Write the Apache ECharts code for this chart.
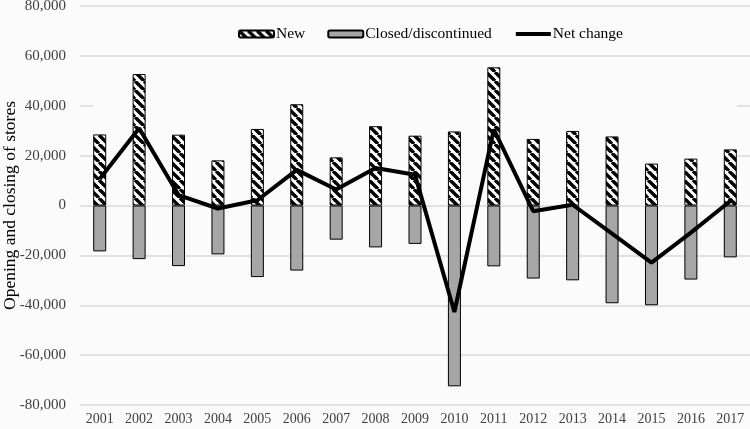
<!DOCTYPE html>
<html>
<head>
<meta charset="utf-8">
<script src="https://cdn.jsdelivr.net/npm/echarts@6/dist/echarts.min.js"></script>
<style>
  html, body { margin: 0; padding: 0; background: #fbfbfb; }
  #chart { width: 750px; height: 429px; }
</style>
</head>
<body>
<div id="chart"></div>
<script>
var years = ['2001', '2002', '2003', '2004', '2005', '2006', '2007', '2008', '2009',
  '2010', '2011', '2012', '2013', '2014', '2015', '2016', '2017']
var newStores = [28500, 52700, 28400, 18100, 30700, 40600, 19300, 31800, 28000,
  29700, 55400, 26700, 29900, 27700, 16800, 18800, 22500]
var closedStores = [-18400, -21500, -24300, -19600, -28700, -26100, -13700, -16800, -15400,
  -72500, -24400, -29300, -30000, -39200, -40000, -29700, -20800]
var netChange = [10600, 31000, 4200, -1200, 2100, 14300, 6400, 15000, 12300,
  -42700, 30500, -2300, 300, -11300, -22900, -10900, 1800]

// hatch pattern for the "New" bars
function hatch () {
  var c = document.createElement('canvas')
  c.width = 9
  c.height = 9
  var ctx = c.getContext('2d')
  ctx.fillStyle = '#fff'
  ctx.fillRect(0, 0, 9, 9)
  ctx.strokeStyle = '#000'
  ctx.lineWidth = 3.4
  ;[-9, 0, 9].forEach(function (k) {
    ctx.beginPath()
    ctx.moveTo(k, 0)
    ctx.lineTo(k + 9, 9)
    ctx.stroke()
  })
  return c
}

function fmt (v) {
  return String(v).replace(/\B(?=(\d{3})+(?!\d))/g, ',')
}

var font = 'Liberation Serif'
var textColor = '#404040'

var myChart = echarts.init(document.getElementById('chart'))
myChart.setOption({
  backgroundColor: '#fbfbfb',
  animation: false,
  textStyle: { fontFamily: font },
  grid: { left: 80, right: 0, top: 6, bottom: 24, outerBoundsMode: 'none', containLabel: false },
  legend: {
    left: 233,
    top: 21,
    itemWidth: 35,
    itemHeight: 7,
    itemGap: 22,
    textStyle: { fontFamily: font, fontSize: 15.5, color: '#000', padding: [0, 0, 0, -3] },
    data: [
      'New',
      'Closed/discontinued',
      { name: 'Net change', itemStyle: { opacity: 0 }, lineStyle: { width: 4 } }
    ]
  },
  xAxis: {
    type: 'category',
    data: years,
    axisTick: { show: false },
    axisLine: { show: false, onZero: false },
    axisLabel: { fontFamily: font, fontSize: 14, color: textColor, margin: 7 }
  },
  yAxis: {
    type: 'value',
    min: -80000,
    max: 80000,
    interval: 20000,
    name: 'Opening and closing of stores',
    nameLocation: 'middle',
    nameGap: 61,
    nameMoveOverlap: false,
    nameTextStyle: { fontFamily: font, fontSize: 17.5, color: '#000' },
    axisLine: { show: false },
    axisTick: { show: false },
    axisLabel: { fontFamily: font, fontSize: 15, color: textColor, margin: 14, formatter: fmt },
    splitLine: { lineStyle: { color: '#d9d9d9', width: 1.5 } }
  },
  graphic: [{
    type: 'rect',
    z: 1,
    silent: true,
    shape: { x: 93, y: 62, width: 644, height: 138 },
    style: { fill: '#fbfbfb' }
  }],
  series: [
    {
      name: 'New',
      type: 'bar',
      data: newStores,
      barWidth: 13,
      barGap: '-100%',
      itemStyle: {
        color: { image: hatch(), repeat: 'repeat' },
        borderColor: '#000',
        borderWidth: 1
      }
    },
    {
      name: 'Closed/discontinued',
      type: 'bar',
      data: closedStores,
      barWidth: 13,
      itemStyle: { color: '#a6a6a6', borderColor: '#000', borderWidth: 1 }
    },
    {
      name: 'Net change',
      type: 'line',
      data: netChange,
      symbol: 'none',
      z: 3,
      lineStyle: { color: '#000', width: 4 },
      itemStyle: { color: '#000' }
    }
  ]
})
</script>
</body>
</html>
